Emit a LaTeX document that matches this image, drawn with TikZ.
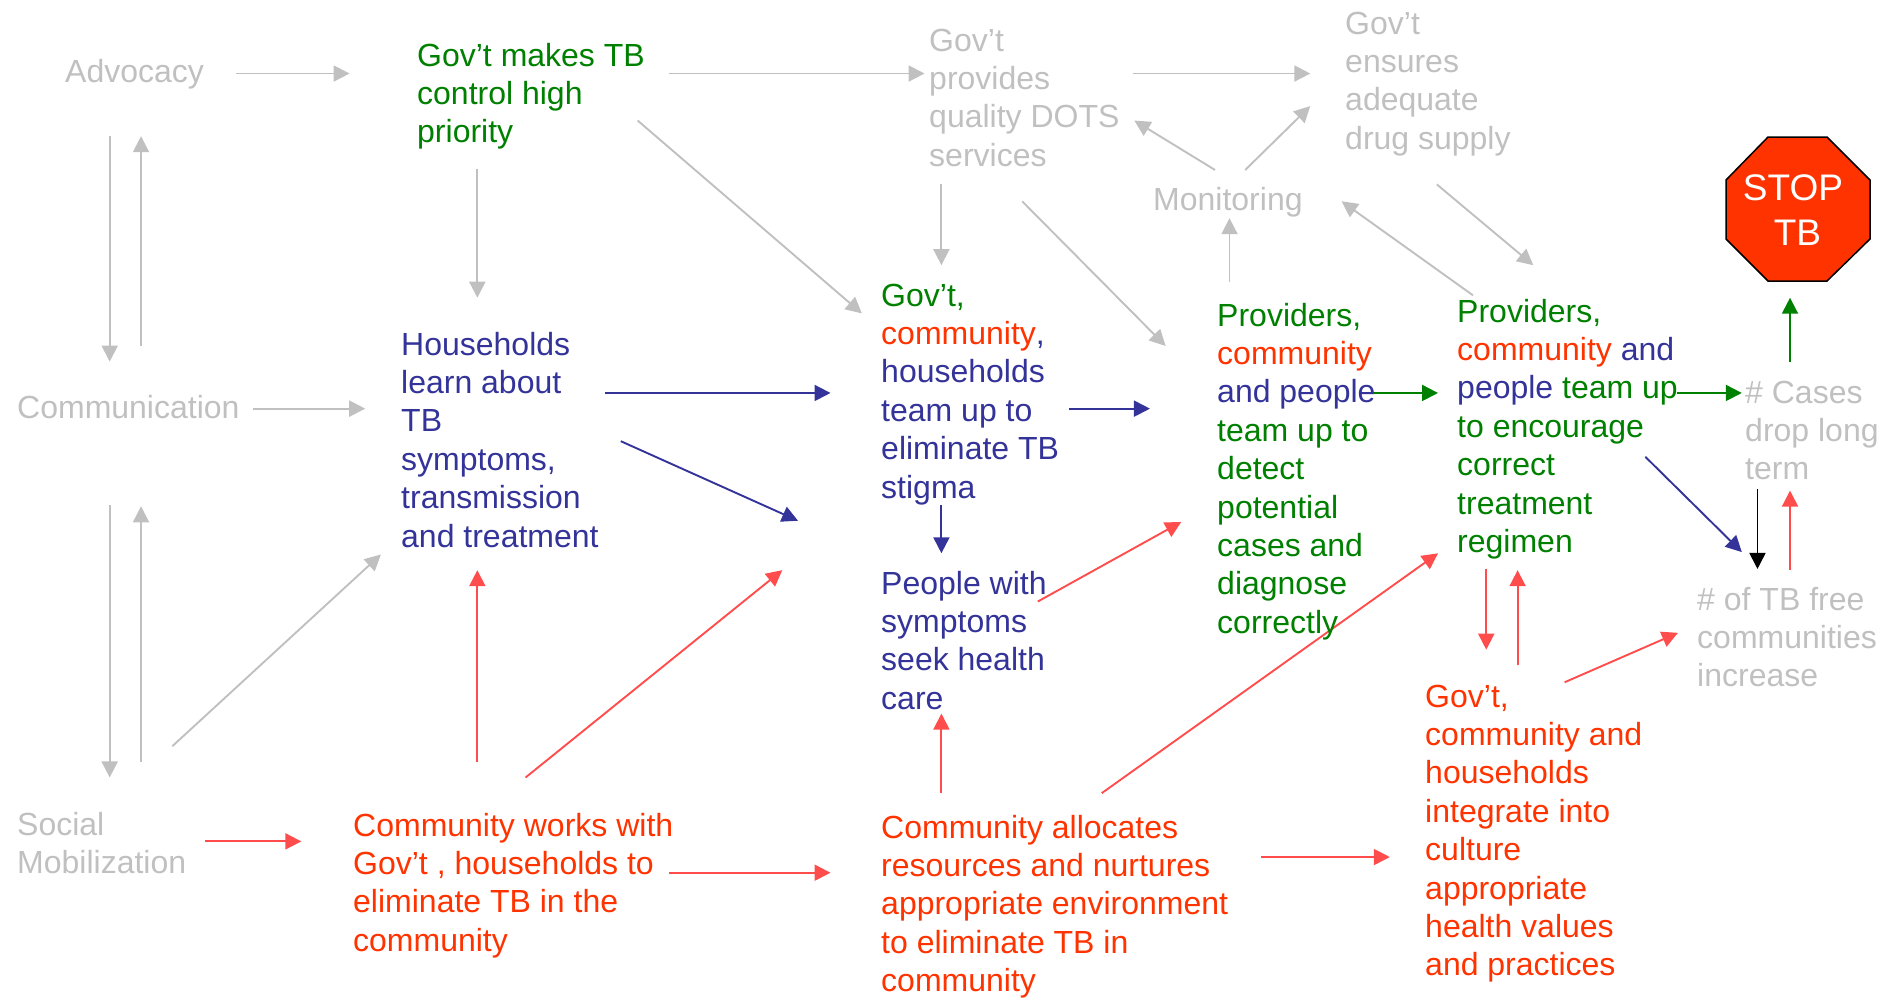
\documentclass[tikz,border=0pt]{standalone}
\usepackage{fontspec}
\setmainfont{Liberation Sans}
\definecolor{cgray}{HTML}{C0C0C0}
\definecolor{cgreen}{HTML}{008000}
\definecolor{cblue}{HTML}{333399}
\definecolor{cred}{HTML}{FF3300}
\definecolor{carrow}{HTML}{FF4D4D}
\newcommand{\gr}[1]{{\color{cgreen}#1}}
\newcommand{\bl}[1]{{\color{cblue}#1}}
\newcommand{\rd}[1]{{\color{cred}#1}}
\usetikzlibrary{arrows.meta}
\tikzset{
  x=1pt,y=1pt,
  txt/.style={anchor=north west,inner sep=0pt,align=left,font=\fontsize{32}{38.4}\selectfont},
  lnkbase/.style={line width=1.9pt,-{Triangle[length=16pt,width=16pt]}},
  ga/.style={lnkbase,draw=cgray,fill=cgray},
  ba/.style={lnkbase,draw=cblue,fill=cblue},
  ge/.style={lnkbase,draw=cgreen,fill=cgreen},
  ka/.style={lnkbase,draw=black,fill=black},
  ra/.style={lnkbase,draw=carrow,fill=carrow},
}
\begin{document}
\begin{tikzpicture}
\useasboundingbox (0,0) rectangle (1890,-997);
% connectors (end points in the shrunk reference's pixels)
\foreach \n/\xa/\ya/\xb/\yb in {
 a/196/61/290/61, b/555/61/767/61, c/940/61/1087/61, d/91/113/91/300, e/117/287/117/113,
 f/396/140/396/247, g/529/100/715/260, h/781/153/781/220, i/848/167/967/287, j/1008/141/941/100,
 k/1033/141/1087/88, l/1020/234/1020/181, m/1222/245/1113/167, n/1192/153/1272/220, o/210/339/303/339,
 p/91/419/91/645, q/117/632/117/420, r/143/619/316/460}{
  \coordinate (\n1) at ({\xa*1.2054},{-\ya*1.2054});
  \coordinate (\n2) at ({\xb*1.2054},{-\yb*1.2054});
  \draw[ga] (\n1) -- (\n2);
}
\foreach \n/\xa/\ya/\xb/\yb in {
 s/502/326/689/326, t/515/366/662/432, u/887/339/954/339, v/781/419/781/459, w/1365/379/1445/458}{
  \coordinate (\n1) at ({\xa*1.2054},{-\ya*1.2054});
  \coordinate (\n2) at ({\xb*1.2054},{-\yb*1.2054});
  \draw[ba] (\n1) -- (\n2);
}
\foreach \n/\xa/\ya/\xb/\yb in {
 x/1138/326/1193/326, y/1391/326/1445/326, z/1485/300/1485/247}{
  \coordinate (\n1) at ({\xa*1.2054},{-\ya*1.2054});
  \coordinate (\n2) at ({\xb*1.2054},{-\yb*1.2054});
  \draw[ge] (\n1) -- (\n2);
}
\coordinate (aa1) at ({1458*1.2054},{-406*1.2054});
\coordinate (aa2) at ({1458*1.2054},{-472*1.2054});
\draw[ka] (aa1) -- (aa2);
\foreach \n/\xa/\ya/\xb/\yb in {
 ab/1485/473/1485/407, ac/396/632/396/473, ad/436/645/649/473, ae/861/499/980/433, af/170/698/250/698,
 ag/555/724/689/724, ah/781/658/781/592, ai/914/658/1193/459, aj/1046/711/1153/711, ak/1233/472/1233/539,
 al/1259/552/1259/473, am/1298/566/1392/525}{
  \coordinate (\n1) at ({\xa*1.2054},{-\ya*1.2054});
  \coordinate (\n2) at ({\xb*1.2054},{-\yb*1.2054});
  \draw[ra] (\n1) -- (\n2);
}
% text nodes
\node[txt,text=cgray] (adv) at (65,-55) {\strut Advocacy};
\node[txt,text=cgreen] (prio) at (417,-39) {\strut Gov’t makes TB\\control high\\priority};
\node[txt,text=cgray] (dots) at (929,-24) {\strut Gov’t\\provides\\quality DOTS\\services};
\node[txt,text=cgray] (drug) at (1345,-7) {\strut Gov’t\\ensures\\adequate\\drug supply};
\node[txt,text=cgray] (mon) at (1153,-183) {\strut Monitoring};
\node[txt,text=cblue] (stigma) at (881,-279) {\strut\gr{Gov’t,}\\\rd{community}\bl{,}\\households\\team up to\\eliminate TB\\stigma};
\node[txt,text=cgreen] (detect) at (1217,-299) {\strut Providers,\\\rd{community}\\\bl{and people}\\team up to\\detect\\potential\\cases and\\diagnose\\correctly};
\node[txt,text=cgreen] (regimen) at (1457,-295) {\strut Providers,\\\rd{community} \bl{and}\\\bl{people} team up\\to encourage\\correct\\treatment\\regimen};
\node[txt,text=cblue] (house) at (401,-328) {\strut Households\\learn about\\TB\\symptoms,\\transmission\\and treatment};
\node[txt,text=cgray] (comm) at (17,-391) {\strut Communication};
\node[txt,text=cgray] (cases) at (1745,-376) {\strut \# Cases\\drop long\\term};
\node[txt,text=cblue] (people) at (881,-567) {\strut People with\\symptoms\\seek health\\care};
\node[txt,text=cgray] (free) at (1697,-583) {\strut \# of TB free\\communities\\increase};
\node[txt,text=cred] (values) at (1425,-680) {\strut Gov’t,\\community and\\households\\integrate into\\culture\\appropriate\\health values\\and practices};
\node[txt,text=cred] (works) at (353,-809) {\strut Community works with\\Gov’t , households to\\eliminate TB in the\\community};
\node[txt,text=cgray] (social) at (17,-808) {\strut Social\\Mobilization};
\node[txt,text=cred] (alloc) at (881,-811) {\strut Community allocates\\resources and nurtures\\appropriate environment\\to eliminate TB in\\community};
% stop sign
\draw[line width=1.5pt,draw=black,fill=cred] (1768,-137) -- (1827,-137) -- (1870,-180) -- (1870,-239) -- (1827,-281) -- (1768,-281) -- (1726,-239) -- (1726,-180) -- cycle;
\node[inner sep=0pt,align=center,text=white,font=\fontsize{37}{45}\selectfont] (stop) at (1793,-210) {STOP\\\hspace{9pt}TB};
\end{tikzpicture}
\end{document}
